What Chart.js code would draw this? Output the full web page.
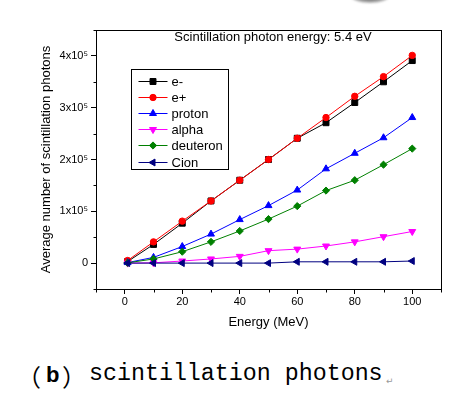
<!DOCTYPE html>
<html>
<head>
<meta charset="utf-8">
<script src="https://cdn.jsdelivr.net/npm/chart.js@4.4.0/dist/chart.umd.min.js"></script>
<style>
html, body { margin: 0; padding: 0; background: #fff; }
#wrap { position: relative; width: 452px; height: 396px; overflow: hidden; }
#chartBox { position: absolute; left: 0; top: 0; width: 452px; height: 340px; }
#smudge { position: absolute; left: 350px; top: -13px; width: 40px; height: 16px; border-radius: 50%;
  background: radial-gradient(ellipse at center, #333 0%, #888 45%, rgba(200,200,200,0) 100%); filter: blur(1px); }
.cap { position: absolute; white-space: pre; color: #000; line-height: 1; }
</style>
</head>
<body>
<div id="wrap">
  <div id="smudge"></div>
  <div id="chartBox"><canvas id="photonChart" width="452" height="340"></canvas></div>
  <span class="cap" id="capOpen" style="left:17px; top:358px; font: 24px 'Noto Sans CJK SC';">（</span>
  <span class="cap" id="capB" style="left:46px; top:362px; font: bold 22px 'Liberation Sans';">b</span>
  <span class="cap" id="capClose" style="left:62px; top:358px; font: 24px 'Noto Sans CJK SC';">）</span>
  <span class="cap" id="capText" style="left:89px; top:361px; font: 23.3px 'Liberation Mono';">scintillation photons</span>
  <span class="cap" id="capMark" style="left:386px; top:376px; font: 9px 'DejaVu Sans'; color:#999;">↵</span>
</div>
<script>
// Data
const energy = [1, 10, 20, 30, 40, 50, 60, 70, 80, 90, 100];
const eMinus = [3000, 36000, 77000, 120000, 160000, 200000, 241000, 271000, 310000, 350000, 391000];
const ePlus = [5000, 41000, 81000, 120000, 160000, 200000, 241000, 281000, 322000, 360000, 401000];
const proton = [1000, 11000, 32000, 56000, 84000, 111000, 141000, 182000, 212000, 242000, 281000];
const alpha = [0, 500, 4000, 8000, 13000, 24000, 27000, 33000, 41000, 51000, 61000];
const deuteron = [500, 8000, 22000, 41000, 62000, 85000, 110000, 140000, 160000, 190000, 221000];
const cion = [0, 0, 0, 0, 0, 0, 2500, 2500, 2500, 2500, 4000];

const seriesNames = ['e-', 'e+', 'proton', 'alpha', 'deuteron', 'Cion'];
const xTickValues = [0, 20, 40, 60, 80, 100];
const yTickValues = [0, 100000, 200000, 300000, 400000];
const yTickLabels = ['0', '1x10\u2075', '2x10\u2075', '3x10\u2075', '4x10\u2075'];
const chartTitle = 'Scintillation photon energy: 5.4 eV';

function makeSet(i, values, color, style, rot, radius) {
    return {
        label: seriesNames[i],
        data: values.map((v, k) => ({ x: energy[k], y: v })),
        borderColor: color,
        backgroundColor: color,
        borderWidth: 1,
        pointStyle: style,
        rotation: rot,
        pointRadius: radius,
        pointBorderWidth: 1,
        pointHoverRadius: radius,
        order: -i
    };
}

// Frame, minor ticks and inner title
const framePlugin = {
    id: 'framePlugin',
    afterDraw(chart) {
        const { ctx, chartArea: a, scales: { x, y } } = chart;
        const l = Math.round(a.left) + 0.5, t = Math.round(a.top) + 0.5;
        const r = Math.round(a.right) + 0.5, b = Math.round(a.bottom) + 0.5;
        ctx.save();
        ctx.strokeStyle = '#000';
        ctx.lineWidth = 1;
        ctx.strokeRect(l, t, r - l, b - t);

        // minor ticks
        ctx.beginPath();
        x.ticks.forEach(tk => {
            if (xTickValues.includes(tk.value)) return;
            const px = Math.round(x.getPixelForValue(tk.value)) + 0.5;
            ctx.moveTo(px, b); ctx.lineTo(px, b + 3);
        });
        y.ticks.forEach(tk => {
            if (yTickValues.includes(tk.value)) return;
            const py = Math.round(y.getPixelForValue(tk.value)) + 0.5;
            ctx.moveTo(l, py); ctx.lineTo(l - 3, py);
        });
        ctx.stroke();

        ctx.fillStyle = '#000';
        ctx.font = "13px 'Liberation Sans'";
        ctx.textAlign = 'center';
        ctx.textBaseline = 'alphabetic';
        ctx.fillText(chartTitle, a.left + 177, a.top + 10.5);
        ctx.restore();
    }
};

// Legend box inside the plot
const boxLegend = {
    id: 'boxLegend',
    afterDraw(chart) {
        const { ctx, chartArea: a } = chart;
        const x0 = Math.round(a.left) + 35.5, y0 = Math.round(a.top) + 39.5;
        ctx.save();
        ctx.fillStyle = '#fff';
        ctx.fillRect(x0, y0, 97, 100);
        ctx.strokeStyle = '#000';
        ctx.lineWidth = 1;
        ctx.strokeRect(x0, y0, 97, 100);
        chart.data.datasets.forEach((ds, i) => {
            const yy = Math.round(y0 + 11 + i * 16.2) + 0.5;
            ctx.strokeStyle = ds.borderColor;
            ctx.fillStyle = ds.backgroundColor;
            ctx.beginPath();
            ctx.moveTo(x0 + 7, yy);
            ctx.lineTo(x0 + 36, yy);
            ctx.stroke();
            if (Chart.helpers && Chart.helpers.drawPoint) {
                Chart.helpers.drawPoint(ctx, {
                    pointStyle: ds.pointStyle, rotation: ds.rotation,
                    radius: ds.pointRadius, borderWidth: 1
                }, x0 + 21.5, yy);
            }
            ctx.fillStyle = '#000';
            ctx.font = "13px 'Liberation Sans'";
            ctx.textAlign = 'left';
            ctx.textBaseline = 'middle';
            ctx.fillText(ds.label, x0 + 40, yy + 0.5);
        });
        ctx.restore();
    }
};

const tickColorX = c => (c.tick && xTickValues.includes(c.tick.value)) ? '#000' : 'rgba(0,0,0,0)';
const tickColorY = c => (c.tick && yTickValues.includes(c.tick.value)) ? '#000' : 'rgba(0,0,0,0)';

document.addEventListener('DOMContentLoaded', function () {
    const ctx = document.getElementById('photonChart').getContext('2d');
    new Chart(ctx, {
        type: 'line',
        data: {
            datasets: [
                makeSet(0, eMinus, '#000000', 'rect', 0, 4.2),
                makeSet(1, ePlus, '#ff0000', 'circle', 0, 3.2),
                makeSet(2, proton, '#0000ff', 'triangle', 0, 4),
                makeSet(3, alpha, '#ff00ff', 'triangle', 180, 4),
                makeSet(4, deuteron, '#008000', 'rectRot', 0, 3.6),
                makeSet(5, cion, '#000080', 'triangle', -90, 4)
            ]
        },
        options: {
            responsive: false,
            animation: false,
            events: [],
            layout: { padding: { top: 30, right: 11, bottom: 0, left: 0 } },
            plugins: {
                legend: { display: false },
                title: { display: false },
                tooltip: { enabled: false }
            },
            elements: { line: { tension: 0 } },
            scales: {
                x: {
                    type: 'linear',
                    min: -10,
                    max: 110,
                    afterFit: s => { s.height = 51; },
                    border: { display: true, color: '#000', width: 1 },
                    grid: { drawOnChartArea: false, drawTicks: true, tickLength: 5, tickColor: tickColorX },
                    ticks: {
                        stepSize: 10,
                        autoSkip: false,
                        maxRotation: 0,
                        padding: 1,
                        color: '#000',
                        font: { family: 'Liberation Sans', size: 11 },
                        callback: v => xTickValues.includes(v) ? String(v) : ''
                    },
                    title: {
                        display: true,
                        text: 'Energy (MeV)',
                        color: '#000',
                        font: { family: 'Liberation Sans', size: 13 },
                        padding: { top: 0, bottom: 10 }
                    }
                },
                y: {
                    type: 'linear',
                    min: -50000,
                    max: 450000,
                    afterFit: s => { s.width = 96; },
                    border: { display: true, color: '#000', width: 1 },
                    grid: { drawOnChartArea: false, drawTicks: true, tickLength: 5, tickColor: tickColorY },
                    ticks: {
                        stepSize: 50000,
                        autoSkip: false,
                        padding: 3,
                        color: '#000',
                        font: { family: 'Liberation Sans', size: 11 },
                        callback: v => {
                            const k = yTickValues.indexOf(v);
                            return k >= 0 ? yTickLabels[k] : '';
                        }
                    },
                    title: {
                        display: true,
                        text: 'Average number of scintillation photons',
                        color: '#000',
                        font: { family: 'Liberation Sans', size: 13 },
                        padding: { top: 39, bottom: 0 }
                    }
                }
            }
        },
        plugins: [framePlugin, boxLegend]
    });
});
</script>
</body>
</html>
